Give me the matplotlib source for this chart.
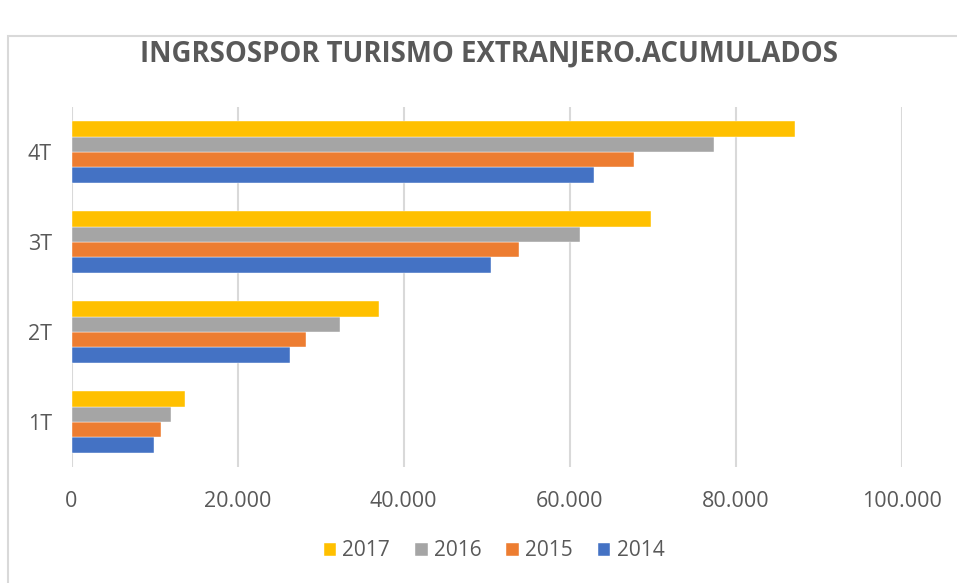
import matplotlib
matplotlib.use("Agg")
import matplotlib.pyplot as plt
import numpy as np
from matplotlib.patches import Rectangle
from matplotlib.ticker import FuncFormatter

categories = ["1T", "2T", "3T", "4T"]
years = ["2014", "2015", "2016", "2017"]
v2014 = [9950, 26300, 50500, 63000]
v2015 = [10750, 28200, 53900, 67800]
v2016 = [12000, 32400, 61300, 77400]
v2017 = [13650, 37100, 69800, 87100]
series = [v2014, v2015, v2016, v2017]
colors = ["#4472C4", "#ED7D31", "#A5A5A5", "#FFC000"]
title = "INGRSOSPOR TURISMO EXTRANJERO.ACUMULADOS"

plt.rcParams['font.family'] = ['Open Sans', 'DejaVu Sans']
W, H = 957, 583
fig = plt.figure(figsize=(W/100, H/100), dpi=100)
fig.patch.set_facecolor("white")

# chart border
fig.patches.append(Rectangle((8/W, -0.05), 1.1, (H-36)/H + 0.05, transform=fig.transFigure,
                             fill=False, edgecolor="#d9d9d9", linewidth=1.5))

ax = fig.add_axes([71.5/W, 116/H, 830.1/W, 360/H])
y = np.arange(len(categories))
bh = 0.17
for i, (vals, c, yr) in enumerate(zip(series, colors, years)):
    ax.barh(y + (i - 1.5) * bh, vals, height=bh, color=c, label=yr, zorder=3,
            edgecolor="white", linewidth=0.3)

ax.set_xlim(0, 100000)
ax.set_ylim(-0.5, 3.5)
ax.set_xticks(np.arange(0, 100001, 20000))
ax.xaxis.set_major_formatter(FuncFormatter(lambda v, p: f"{int(v):,}".replace(",", ".")))
ax.set_yticks(y)
ax.set_yticklabels(categories)
ax.grid(axis="x", color="#d9d9d9", linewidth=1.5, zorder=0)
for s in ax.spines.values():
    s.set_visible(False)
ax.tick_params(axis="both", length=0, colors="#595959", labelsize=15.5)
ax.tick_params(axis="x", pad=17)
ax.tick_params(axis="y", pad=14)

fig.text(489/W, 1 - 54/H, title, ha="center", va="center", fontsize=19.8,
         color="#595959", family=['Liberation Sans Narrow', 'Open Sans'], fontweight="bold")

handles, labels = ax.get_legend_handles_labels()
leg = fig.legend(handles[::-1], labels[::-1], loc="center", bbox_to_anchor=(494/W, 1 - 551/H),
                 ncol=4, frameon=False, fontsize=15, handlelength=0.6, handleheight=0.6,
                 handletextpad=0.3, columnspacing=1.2, labelcolor="#595959")

fig.savefig("out.png", dpi=100, facecolor="white")
